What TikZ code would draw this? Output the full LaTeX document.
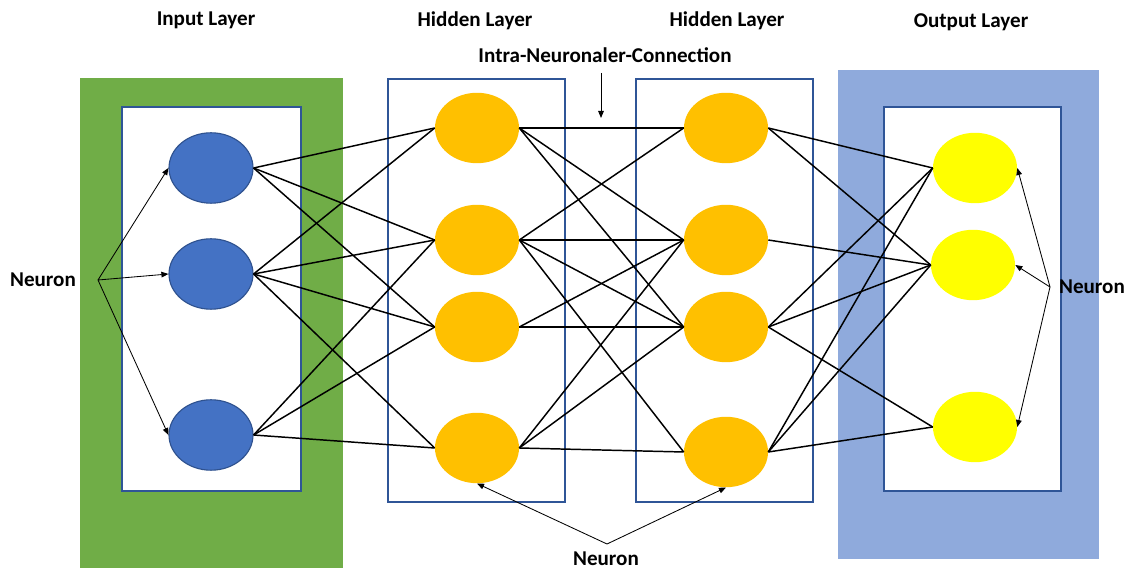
\documentclass[tikz,border=0pt]{standalone}
\usepackage{fontspec}
\setmainfont{Carlito}
\usetikzlibrary{shapes.geometric,arrows.meta}
\definecolor{framegreen}{HTML}{70AD47}
\definecolor{frameblue}{HTML}{8FAADC}
\definecolor{boxline}{HTML}{2F5597}
\definecolor{inblue}{HTML}{4472C4}
\definecolor{inedge}{HTML}{2F528F}
\definecolor{hidorange}{HTML}{FFC000}
\definecolor{outyellow}{HTML}{FFFF00}
\tikzset{
  neuron/.style={ellipse, minimum width=2.1cm, minimum height=1.76cm, inner sep=0pt},
  inneuron/.style={neuron, fill=inblue, draw=inedge, line width=0.8pt},
  hidneuron/.style={neuron, fill=hidorange},
  outneuron/.style={neuron, fill=outyellow},
  layerbox/.style={draw=boxline, line width=0.9pt},
  link/.style={line width=1.05pt},
  pointer/.style={line width=0.6pt, -{Triangle[length=5pt,width=4pt]}},
  caption/.style={font=\fontsize{15}{17}\selectfont\bfseries, inner sep=0pt}
}
\begin{document}
\begin{tikzpicture}[x=0.025cm,y=-0.025cm]
\useasboundingbox (0,0) rectangle (1132,569);

% layer frames
\fill[framegreen] (80,78) rectangle (343,568);
\draw[layerbox, fill=white] (122,107) rectangle (301,491);
\fill[frameblue] (838,70) rectangle (1099,559);
\draw[layerbox, fill=white] (884,107) rectangle (1061,491);
\draw[layerbox] (388,79) rectangle (565,502);
\draw[layerbox] (636,79) rectangle (813,502);

% neurons
\node[inneuron] (i1) at (211,168) {};
\node[inneuron] (i2) at (211,274) {};
\node[inneuron] (i3) at (211,435) {};

\node[hidneuron] (h1) at (477,128) {};
\node[hidneuron] (h2) at (477,240) {};
\node[hidneuron] (h3) at (477,327) {};
\node[hidneuron] (h4) at (477,448) {};

\node[hidneuron] (g1) at (726,128) {};
\node[hidneuron] (g2) at (726,240) {};
\node[hidneuron] (g3) at (726,327) {};
\node[hidneuron] (g4) at (726,452) {};

\node[outneuron] (o1) at (975,168) {};
\node[outneuron] (o2) at (973,265) {};
\node[outneuron] (o3) at (975,427) {};

% connections
\foreach \a/\b in {i1/h1,i1/h2,i1/h3,i2/h1,i2/h2,i2/h3,i2/h4,i3/h2,i3/h3,i3/h4,
                   h1/g1,h1/g2,h1/g3,h2/g1,h2/g2,h2/g3,h2/g4,h3/g2,h3/g3,h4/g2,h4/g3,h4/g4,
                   g1/o1,g1/o2,g2/o2,g3/o1,g3/o2,g3/o3,g4/o1,g4/o2,g4/o3}
  \draw[link] (\a.east) -- (\b.west);

% titles
\node[caption] (tin)  at (206,20) {Input Layer};
\node[caption] (th1)  at (475,21) {Hidden Layer};
\node[caption] (th2)  at (727,21) {Hidden Layer};
\node[caption] (tout) at (971,22) {Output Layer};

% intra-layer connection label
\node[caption] (intra) at (605,55) {Intra-Neuronaler-Connection};
\coordinate (intraA) at (601,73);
\coordinate (intraB) at (601,118);
\draw[pointer] (intraA) -- (intraB);

% neuron callouts
\node[caption] (nleft) at (43,280) {Neuron};
\coordinate (jleft) at (98,280);
\foreach \t in {i1,i2,i3} \draw[pointer] (jleft) -- (\t.west);

\node[caption] (nright) at (1092,287) {Neuron};
\coordinate (jright) at (1050,287);
\foreach \t in {o1,o2,o3} \draw[pointer] (jright) -- (\t.east);

\node[caption] (nbottom) at (606,559) {Neuron};
\coordinate (jbottom) at (607,544);
\foreach \t in {h4,g4} \draw[pointer] (jbottom) -- (\t.south);
\end{tikzpicture}
\end{document}
